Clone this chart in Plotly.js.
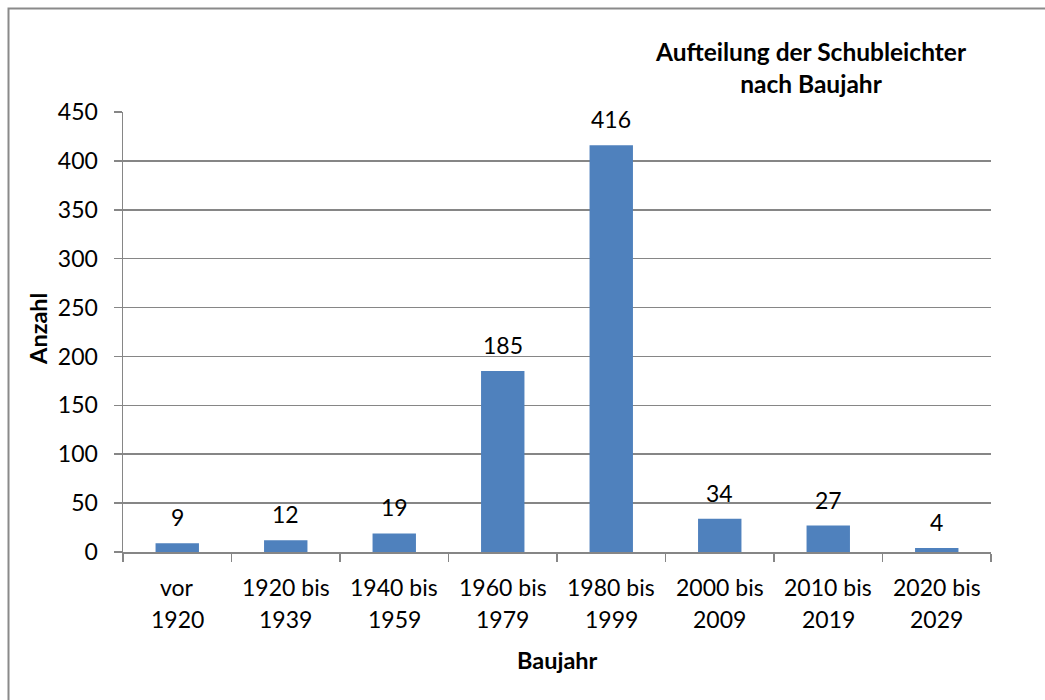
<!DOCTYPE html>
<html>
<head>
<meta charset="utf-8">
<script src="https://cdn.plot.ly/plotly-3.0.1.min.js"></script>
<style>html,body{margin:0;padding:0;background:#fff;}#chart{width:1045px;height:700px;}</style>
</head>
<body>
<div id="chart"></div>
<script>
const categories = ["vor<br>1920", "1920 bis<br>1939", "1940 bis<br>1959", "1960 bis<br>1979", "1980 bis<br>1999", "2000 bis<br>2009", "2010 bis<br>2019", "2020 bis<br>2029"];
const counts = [9, 12, 19, 185, 416, 34, 27, 4];
const chartTitle = "Aufteilung der Schubleichter<br>nach Baujahr";
const xTitle = "Baujahr";
const yTitle = "Anzahl";
const yTickVals = [0, 50, 100, 150, 200, 250, 300, 350, 400, 450];

const FONT = "Lato, 'Open Sans', sans-serif";
const GRID = "#868686";

const annotations = [];
// value labels above bars
categories.forEach((c, i) => {
  annotations.push({
    x: c, y: counts[i], xref: "x", yref: "y",
    text: String(counts[i]), showarrow: false,
    yanchor: "middle", yshift: 26,
    font: {family: FONT, size: 23, color: "#000"}
  });
  const lines = c.split("<br>");
  lines.forEach((ln, j) => {
    annotations.push({
      x: c, y: 0, xref: "x", yref: "paper",
      text: ln, showarrow: false,
      yanchor: "middle", yshift: -35 - 31.5 * j,
      font: {family: FONT, size: 23, color: "#000"}
    });
  });
});
annotations.push({
  x: 0.5, y: 0, xref: "paper", yref: "paper", text: "<b>" + xTitle + "</b>",
  showarrow: false, yanchor: "middle", yshift: -108,
  font: {family: FONT, size: 23.5, color: "#000"}
});
annotations.push({
  x: 0, y: 0.507, xref: "paper", yref: "paper", text: "<b>" + yTitle + "</b>",
  showarrow: false, xanchor: "center", yanchor: "middle", xshift: -85, textangle: -90,
  font: {family: FONT, size: 23.5, color: "#000"}
});

const trace = {
  type: "bar",
  x: categories,
  y: counts,
  marker: {color: "#4F81BD", line: {width: 0}},
  hoverinfo: "x+y"
};

const layout = {
  width: 1045, height: 700,
  margin: {l: 123, r: 54, t: 112, b: 148},
  paper_bgcolor: "#fff", plot_bgcolor: "#fff",
  showlegend: false,
  bargap: 0.6,
  title: {
    text: "<b>" + chartTitle + "</b>",
    xref: "paper", x: 0.7926, xanchor: "center",
    yref: "container", y: 1 - 61 / 700, yanchor: "middle",
    font: {family: FONT, size: 24.5, color: "#000"}
  },
  xaxis: {
    type: "category",
    tickson: "boundaries",
    ticks: "outside", ticklen: 8, tickcolor: GRID, tickwidth: 1.5,
    showticklabels: false,
    showline: true, linecolor: GRID, linewidth: 1.5,
    showgrid: false, zeroline: false,
    fixedrange: true
  },
  yaxis: {
    range: [0, 450],
    tickvals: yTickVals,
    ticks: "outside", ticklen: 8, tickcolor: GRID, tickwidth: 1.5,
    ticklabelstandoff: 11,
    tickfont: {family: FONT, size: 23, color: "#000"},
    showline: true, linecolor: GRID, linewidth: 1.5,
    showgrid: true, gridcolor: GRID, gridwidth: 1.5,
    zeroline: false,
    fixedrange: true
  },
  annotations: annotations,
  shapes: [{
    type: "rect", xref: "paper", yref: "paper",
    x0: (8.5 - 123) / 868, x1: (1100 - 123) / 868,
    y0: (552 - 760) / 440, y1: (552 - 8.5) / 440,
    line: {color: "#8a8a8a", width: 2}, layer: "below"
  }]
};

Plotly.newPlot("chart", [trace], layout, {displayModeBar: false, staticPlot: true});
</script>
</body>
</html>
